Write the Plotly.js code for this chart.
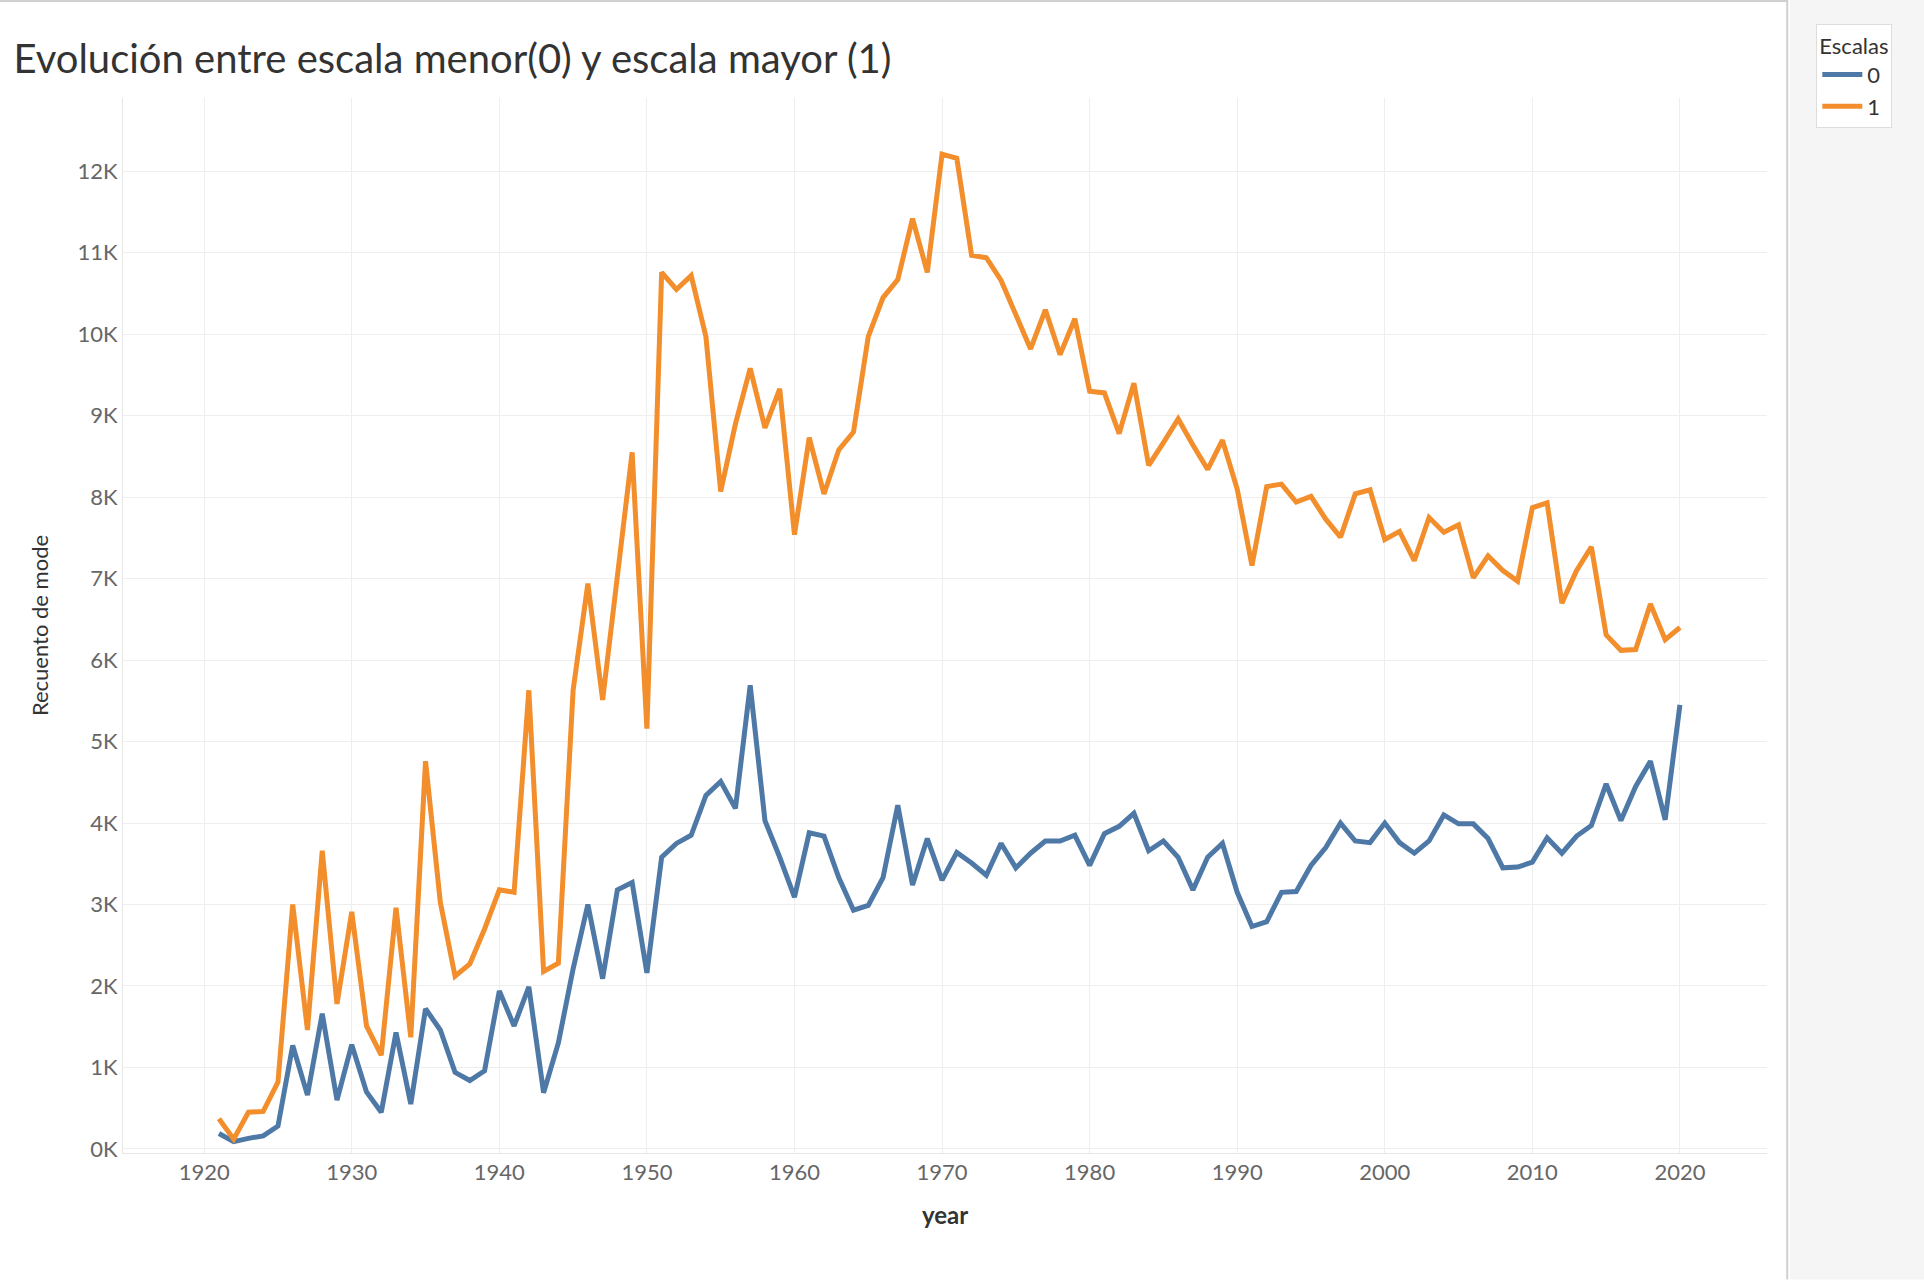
<!DOCTYPE html>
<html>
<head>
<meta charset="utf-8">
<script src="https://cdn.plot.ly/plotly-3.0.1.min.js"></script>
<style>body{margin:0;background:#fff}#chart{width:1924px;height:1280px}</style>
</head>
<body>
<div id="chart"></div>
<script>
// counts in thousands, one per year 1921..2020
const years = Array.from({length: 100}, (_, i) => 1921 + i);
const escala0 = [0.19,0.09,0.13,0.16,0.28,1.27,0.66,1.66,0.6,1.28,
  0.7,0.45,1.43,0.55,1.72,1.46,0.94,0.84,0.96,1.94,
  1.51,1.99,0.69,1.3,2.21,3.0,2.09,3.18,3.27,2.16,
  3.58,3.75,3.85,4.34,4.51,4.18,5.69,4.03,3.58,3.09,
  3.88,3.84,3.33,2.93,2.99,3.33,4.22,3.24,3.81,3.3,
  3.64,3.51,3.36,3.75,3.45,3.63,3.78,3.78,3.85,3.48,
  3.87,3.96,4.12,3.66,3.78,3.58,3.18,3.58,3.75,3.15,
  2.73,2.79,3.15,3.16,3.48,3.7,4.0,3.78,3.76,4.0,
  3.76,3.63,3.78,4.1,3.99,3.99,3.81,3.45,3.46,3.52,
  3.82,3.63,3.84,3.97,4.48,4.03,4.45,4.76,4.04,5.45];
const escala1 = [0.37,0.12,0.45,0.46,0.82,3.0,1.46,3.66,1.78,2.91,
  1.51,1.15,2.96,1.37,4.76,3.03,2.12,2.27,2.7,3.18,
  3.15,5.63,2.18,2.28,5.63,6.94,5.51,7.0,8.55,5.16,
  10.76,10.55,10.72,9.97,8.07,8.9,9.58,8.85,9.33,7.54,
  8.73,8.04,8.58,8.8,9.97,10.45,10.67,11.42,10.76,12.21,
  12.16,10.97,10.94,10.66,10.25,9.82,10.3,9.75,10.19,9.3,
  9.28,8.78,9.4,8.39,8.67,8.96,8.64,8.34,8.7,8.1,
  7.16,8.13,8.16,7.94,8.01,7.73,7.51,8.04,8.09,7.48,
  7.58,7.22,7.75,7.57,7.66,7.01,7.28,7.1,6.97,7.87,
  7.93,6.7,7.1,7.39,6.31,6.12,6.13,6.69,6.25,6.4];
const seriesNames = ['0', '1'];
const seriesColors = ['#4e79a7', '#f28e2b'];

let data = [escala0, escala1].map((ys, i) => ({
    x: years, y: ys, type: 'scatter', mode: 'lines', name: seriesNames[i],
    line: {color: seriesColors[i], width: 5, shape: 'linear'}
}));

let font = {family: 'Lato, "Open Sans", sans-serif', color: '#555'};
let layout = {
    width: 1924, height: 1280,
    margin: {l: 123, r: 157, t: 98, b: 127},
    paper_bgcolor: '#fff', plot_bgcolor: '#fff',
    font: font,
    title: {text: 'Evolución entre escala menor(0) y escala mayor (1)', x: 0.007, xanchor: 'left', y: 0.965,
            font: {family: 'Lato, sans-serif', size: 40, color: '#333'}},
    xaxis: {range: [1914.5, 2025.9], tickvals: [1920,1930,1940,1950,1960,1970,1980,1990,2000,2010,2020],
            showgrid: true, gridcolor: '#eeeeee', zeroline: false, ticks: '',
            tickfont: {size: 22, color: '#666'},
            showline: true, linecolor: '#e6e6e6',
            title: {text: '<b>year</b>', font: {size: 24, color: '#333'}, standoff: 22}},
    yaxis: {range: [-0.05, 12.9], dtick: 1, ticksuffix: 'K', showgrid: true, gridcolor: '#eeeeee',
            zeroline: false, ticks: '', tickfont: {size: 22, color: '#666'},
            showline: true, linecolor: '#e6e6e6',
            title: {text: 'Recuento de mode', font: {size: 22, color: '#333'}, standoff: 22}},
    showlegend: true,
    legend: {x: 1.03, xanchor: 'left', y: 1.07, yanchor: 'top',
             title: {text: 'Escalas', font: {size: 22, color: '#333'}},
             font: {size: 22, color: '#333'}, itemwidth: 40,
             bgcolor: '#fff', bordercolor: '#ddd', borderwidth: 1},
    shapes: [
        {type: 'line', xref: 'paper', yref: 'paper', x0: 1.0123, x1: 1.0123, y0: -0.12, y1: 1.1,
         line: {color: '#d0d0d0', width: 2}},
        {type: 'rect', xref: 'paper', yref: 'paper', x0: 1.014, x1: 1.12, y0: -0.12, y1: 1.1,
         fillcolor: '#f5f5f5', line: {width: 0}, layer: 'below'},
        {type: 'line', xref: 'paper', yref: 'paper', x0: -0.1, x1: 1.0123, y0: 1.092, y1: 1.092,
         line: {color: '#d0d0d0', width: 2}}
    ]
};
Plotly.newPlot('chart', data, layout, {displayModeBar: false});
</script>
</body>
</html>
